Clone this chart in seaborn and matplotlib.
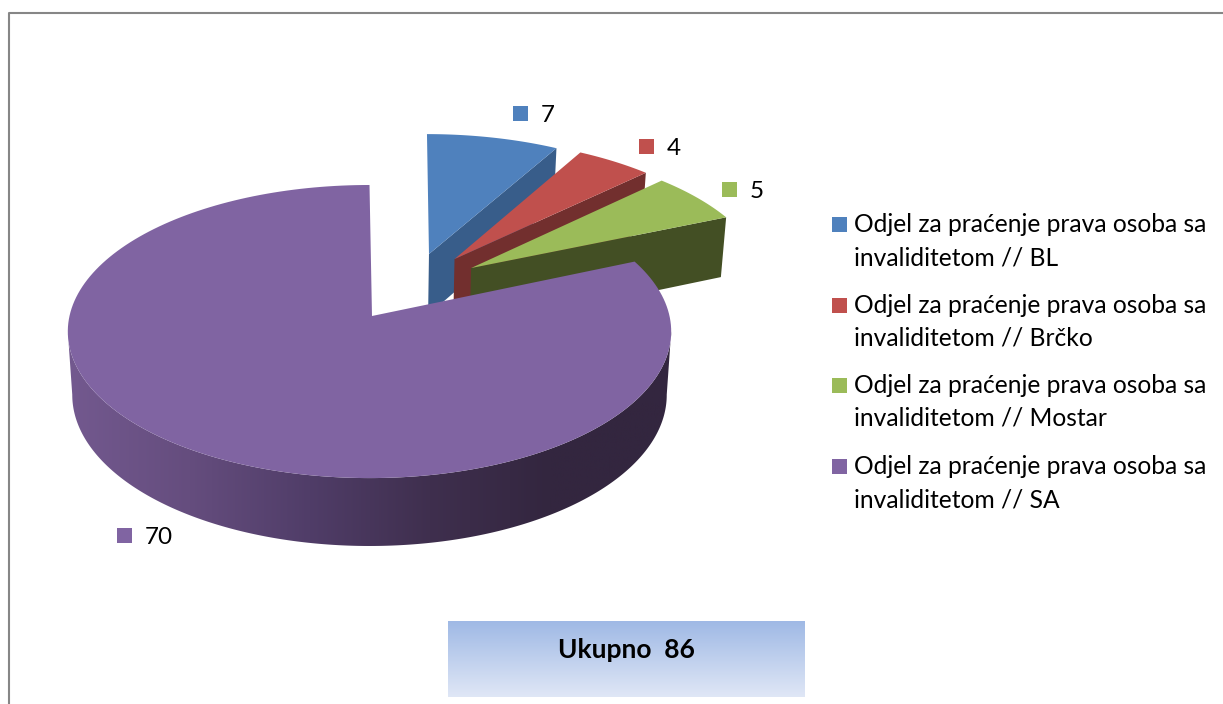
import numpy as np
import matplotlib
matplotlib.use('Agg')
import matplotlib.pyplot as plt
from matplotlib.patches import Polygon, Rectangle
import seaborn as sns

# chart data
categories = ['Odjel za praćenje prava osoba sa\ninvaliditetom // BL',
              'Odjel za praćenje prava osoba sa\ninvaliditetom // Brčko',
              'Odjel za praćenje prava osoba sa\ninvaliditetom // Mostar',
              'Odjel za praćenje prava osoba sa\ninvaliditetom // SA']
values = [7, 4, 5, 70]
total_label = 'Ukupno  86'

# styles
top_colors = ['#4f81bd', '#c0504d', '#9bbb59', '#8064a2']
side_colors = ['#385d8a', '#722f2e', '#434f24', '#3a2c49']
wall_colors = ['#73598f', '#654d7e', '#503d68', '#3f2f4e', '#33263f', '#33263f']
# explode offsets of each slice on the unit disc (x, y)
explode = [(0.221, 0.448), (0.309, 0.410), (0.361, 0.343), (0.0, 0.0)]
# small sideways nudge of the wedge tip, excel does not put it quite on the centre
apex_shift = [-0.0133, -0.0133, -0.01, 0.0083]
label_pos = [(513, 106), (639, 139), (722, 182), (117, 528)]
legend_y = [232, 313, 393, 474]

# pie geometry in pixels
cx, cy = 369.5, 316
rx, ry = 300, 144.9
persp = 0.106
depth = 63.8
base_shrink = 1.015

sns.set_theme(style='white')
plt.rcParams['font.family'] = ['Lato', 'DejaVu Sans']

fig = plt.figure(figsize=(12.23, 7.04), dpi=100)
ax = fig.add_axes([0, 0, 1, 1])


def project(u, v, base=False):
    # disc coordinates to screen pixels, with a bit of perspective
    w = 1 + persp * v
    if base:
        w = w * base_shrink
        return cx + rx * u / w, cy - ry * v / w + depth / w
    return cx + rx * u / w, cy - ry * v / w


def slice_outline(a0, a1, off, shift, base=False):
    # wedge outline, apex first then the arc
    t = np.radians(np.linspace(a0, a1, 200))
    u = np.concatenate([[off[0] + shift], off[0] + np.sin(t)])
    v = np.concatenate([[off[1]], off[1] + np.cos(t)])
    x, y = project(u, v, base)
    return np.column_stack([x, y])


ends = np.cumsum(values) / np.sum(values) * 360
starts = np.concatenate([[0], ends[:-1]])

# the three pulled out slices, back to front
for i in range(3):
    top = slice_outline(starts[i], ends[i], explode[i], apex_shift[i])
    bottom = slice_outline(starts[i], ends[i], explode[i], apex_shift[i], base=True)
    # cut face on the right side of the slice
    face = [top[0], top[-1], bottom[-1], bottom[0]]
    ax.add_patch(Polygon(face, closed=True, fc=side_colors[i], ec='none', zorder=2 + i))
    ax.add_patch(Polygon(top, closed=True, fc=top_colors[i], ec='none', zorder=2 + i))

# big slice, wall first with gradient
t = np.radians(np.linspace(96, 264, 300))
off = explode[3]
wall_top = np.column_stack(project(off[0] + np.sin(t), off[1] + np.cos(t)))
wall_bot = np.column_stack(project(off[0] + np.sin(t), off[1] + np.cos(t), base=True))
wall = Polygon(np.vstack([wall_top, wall_bot[::-1]]), closed=True, fc='none', ec='none')
ax.add_patch(wall)
wall_cmap = sns.blend_palette(wall_colors, n_colors=256, as_cmap=True)
img = ax.imshow(np.linspace(0, 1, 256).reshape(1, -1), cmap=wall_cmap, aspect='auto',
                extent=[68, 672, 546, 262], zorder=6)
img.set_clip_path(wall)
ax.add_patch(Polygon(slice_outline(starts[3], ends[3], explode[3], apex_shift[3]), closed=True,
                     fc=top_colors[3], ec='none', zorder=7))

# data labels
for val, col, (lx, ly) in zip(values, top_colors, label_pos):
    ax.add_patch(Rectangle((lx, ly), 15, 15, fc=col, ec='none', zorder=8))
    ax.text(lx + 28, ly + 16, str(val), fontsize=17.5, color='black', va='baseline', ha='left', zorder=8)

# legend
for cat, col, ly in zip(categories, top_colors, legend_y):
    ax.add_patch(Rectangle((832, ly - 15), 15, 15, fc=col, ec='none'))
    line1, line2 = cat.split('\n')
    ax.text(854, ly, line1, fontsize=17.75, color='black', va='baseline', ha='left')
    ax.text(854, ly + 33, line2, fontsize=17.75, color='black', va='baseline', ha='left')

# total box
box_cmap = sns.blend_palette(['#9fb9e5', '#e0e7f6'], n_colors=256, as_cmap=True)
ax.imshow(np.linspace(0, 1, 256).reshape(-1, 1), cmap=box_cmap, aspect='auto',
          extent=[448, 805, 697, 621], zorder=1)
ax.text(626, 649.5, total_label, fontsize=19, fontweight='bold', color='black',
        ha='center', va='center', zorder=3)

# outer frame
ax.plot([8.5, 8.5, 1223], [704, 12.5, 12.5], color='#868686', lw=1.5)

ax.set_xlim(0, 1223)
ax.set_ylim(704, 0)
ax.axis('off')

fig.savefig('out.png', dpi=100, facecolor='white')
